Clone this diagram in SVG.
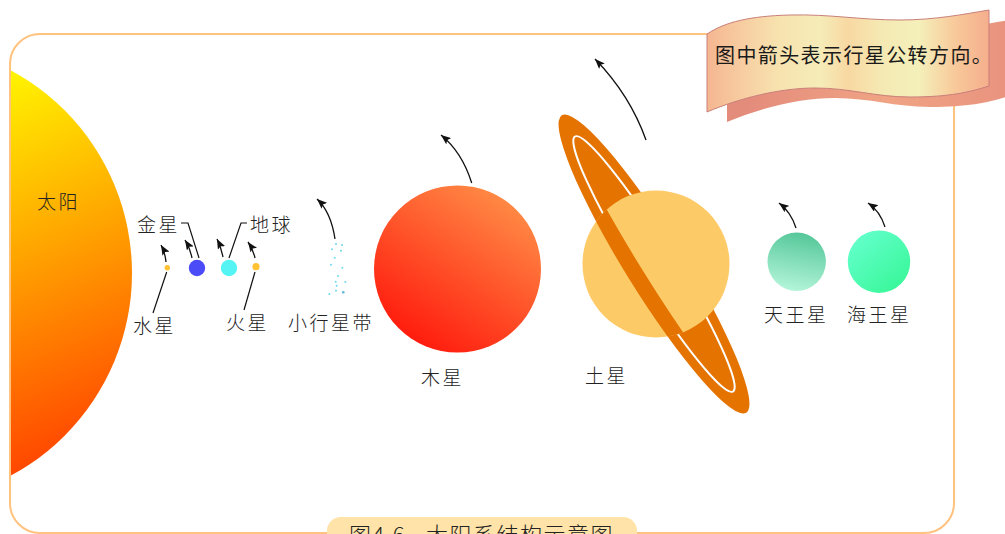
<svg xmlns="http://www.w3.org/2000/svg" width="1005" height="534" viewBox="0 0 1005 534">
  <style>
    .lbl { font-family: 'Noto Sans CJK SC', 'Noto Sans', sans-serif; font-size: 19px; font-weight: 300; fill: #222; letter-spacing: 2.5px; }
    .lead { fill: none; stroke: #111; stroke-width: 1.2; }
    .orbit { fill: none; stroke: #111; stroke-width: 1.3; marker-end: url(#head); }
    .dust { fill: #6ED8F0; }
  </style>
  <defs>
    <marker id="head" viewBox="0 0 10 8" refX="10" refY="4" markerWidth="10" markerHeight="8" markerUnits="userSpaceOnUse" orient="auto">
      <path d="M0,0 L10,4 L0,8 L2,4 Z" fill="#111"/>
    </marker>
    <linearGradient id="sunGrad" gradientUnits="userSpaceOnUse" x1="0" y1="80" x2="150" y2="450">
      <stop offset="0" stop-color="#FFF200"/>
      <stop offset="0.45" stop-color="#FFA000"/>
      <stop offset="1" stop-color="#FF3A00"/>
    </linearGradient>
    <linearGradient id="jupGrad" x1="0.8" y1="0.05" x2="0.2" y2="0.95">
      <stop offset="0" stop-color="#FF8C46"/>
      <stop offset="1" stop-color="#FF180C"/>
    </linearGradient>
    <linearGradient id="uraGrad" x1="0.6" y1="0" x2="0.4" y2="1">
      <stop offset="0" stop-color="#55C799"/>
      <stop offset="1" stop-color="#B4F5DA"/>
    </linearGradient>
    <linearGradient id="nepGrad" x1="0.15" y1="0.1" x2="0.85" y2="0.9">
      <stop offset="0" stop-color="#62FFCA"/>
      <stop offset="1" stop-color="#3AF79A"/>
    </linearGradient>
    <linearGradient id="ribbonFront" gradientUnits="userSpaceOnUse" x1="707" y1="0" x2="989" y2="0">
      <stop offset="0" stop-color="#F5B690"/>
      <stop offset="0.12" stop-color="#F7CCA0"/>
      <stop offset="0.25" stop-color="#F7E2AE"/>
      <stop offset="0.4" stop-color="#F5ECB8"/>
      <stop offset="0.5" stop-color="#F8D8A2"/>
      <stop offset="0.62" stop-color="#F5E9B3"/>
      <stop offset="0.75" stop-color="#F4F0BA"/>
      <stop offset="0.88" stop-color="#F8C99A"/>
      <stop offset="1" stop-color="#F5AE8C"/>
    </linearGradient>
    <linearGradient id="ribbonBack" gradientUnits="userSpaceOnUse" x1="727" y1="0" x2="1009" y2="0">
      <stop offset="0" stop-color="#E48C7C"/>
      <stop offset="0.5" stop-color="#F0A484"/>
      <stop offset="1" stop-color="#E8907E"/>
    </linearGradient>
    <clipPath id="insideFrame">
      <rect x="10" y="0" width="995" height="534"/>
    </clipPath>
    <clipPath id="saturnDisc">
      <circle cx="656" cy="264" r="73.5"/>
    </clipPath>
    <clipPath id="ringFront">
      <rect x="-200" y="0" width="400" height="60"/>
    </clipPath>
    <path id="ribbon" d="M707,34 C725,22 750,16 790,15 C830,14 860,20 900,20 C935,20 965,14 989,10 L989,86 C970,92 950,97 910,97 C875,97 850,88 815,88 C780,88 740,98 707,112 Z"/>
  </defs>

  <rect width="1005" height="534" fill="#FFFFFF"/>

  <!-- Sun, cut off by the frame's left edge -->
  <g id="sun">
    <circle cx="-98" cy="273" r="230" fill="url(#sunGrad)" clip-path="url(#insideFrame)"/>
    <text class="lbl" x="37" y="209">太阳</text>
  </g>

  <!-- outer frame -->
  <rect id="frame" x="10" y="34" width="944" height="499" rx="30" ry="30" fill="none" stroke="#FFC27F" stroke-width="2"/>

  <g id="mercury">
    <circle cx="167.3" cy="267.7" r="2.7" fill="#FFC233"/>
    <text class="lbl" x="133" y="333">水星</text>
  </g>
  <g id="venus">
    <circle cx="197" cy="268" r="8.2" fill="#4B4BF7"/>
    <text class="lbl" x="137" y="232">金星</text>
  </g>
  <g id="earth">
    <circle cx="229" cy="268" r="8.2" fill="#55F4F4"/>
    <text class="lbl" x="250" y="232">地球</text>
  </g>
  <g id="mars">
    <circle cx="256" cy="266.7" r="3.6" fill="#FFC233"/>
    <text class="lbl" x="226" y="330">火星</text>
  </g>
  <g id="asteroid-belt">
    <circle class="dust" cx="336" cy="244" r="1"/>
    <circle class="dust" cx="342" cy="245" r="1"/>
    <circle class="dust" cx="332" cy="249.3" r="1"/>
    <circle class="dust" cx="341" cy="250.7" r="1"/>
    <circle class="dust" cx="334.7" cy="257.7" r="1"/>
    <circle class="dust" cx="331" cy="264.7" r="1"/>
    <circle class="dust" cx="342.3" cy="267.7" r="1"/>
    <circle class="dust" cx="338" cy="276" r="1"/>
    <circle class="dust" cx="335.7" cy="281.7" r="1"/>
    <circle class="dust" cx="345.3" cy="282" r="1"/>
    <circle class="dust" cx="336.7" cy="285.7" r="1"/>
    <circle class="dust" cx="336" cy="290.7" r="1"/>
    <circle class="dust" cx="329.3" cy="294" r="1"/>
    <circle cx="343.3" cy="292.3" r="1.3" fill="#5AB8D8"/>
    <text class="lbl" x="288" y="330">小行星带</text>
  </g>
  <g id="jupiter">
    <circle cx="457.5" cy="269" r="83.5" fill="url(#jupGrad)"/>
    <text class="lbl" x="421" y="385">木星</text>
  </g>
  <g id="saturn">
    <g transform="rotate(58.2 654 264)">
      <ellipse cx="654" cy="264" rx="175" ry="29" fill="#E57300"/>
      <ellipse cx="654" cy="264" rx="150" ry="19" fill="none" stroke="#FFFFFF" stroke-width="2"/>
    </g>
    <circle cx="656" cy="264" r="73.5" fill="#FCCA66"/>
    <g clip-path="url(#saturnDisc)">
      <g transform="translate(654 264) rotate(58.2)">
        <path clip-path="url(#ringFront)" fill="#E57300" fill-rule="evenodd" d="M-175,0 A175,29 0 1 0 175,0 A175,29 0 1 0 -175,0 Z M-150,0 A150,13 0 1 0 150,0 A150,13 0 1 0 -150,0 Z"/>
      </g>
    </g>
    <text class="lbl" x="585" y="383">土星</text>
  </g>
  <g id="uranus">
    <circle cx="796.7" cy="261.7" r="29.2" fill="url(#uraGrad)"/>
    <text class="lbl" x="764" y="322">天王星</text>
  </g>
  <g id="neptune">
    <circle cx="879" cy="261.7" r="31.2" fill="url(#nepGrad)"/>
    <text class="lbl" x="847" y="322">海王星</text>
  </g>

  <!-- leader lines and orbital direction arrows -->
  <g id="connectors">
    <path class="lead" d="M181,223 H188 L199,258"/>
    <path class="lead" d="M247,223 H241 L229,258"/>
    <path class="lead" d="M166.7,272 L153,313"/>
    <path class="lead" d="M255,272 L244,310"/>
    <path class="orbit" d="M166,262 Q165,252 161,245"/>
    <path class="orbit" d="M192,258 Q190,248 185,240"/>
    <path class="orbit" d="M223,257 Q221,247 217,239"/>
    <path class="orbit" d="M255,258 Q253,249 248,242"/>
    <path class="orbit" d="M335,239 Q331,212 317,199"/>
    <path class="orbit" d="M471.7,183 Q462,152 441,135"/>
    <path class="orbit" d="M646,140 Q630,95 595,59"/>
    <path class="orbit" d="M796,228 Q791,212 779,203"/>
    <path class="orbit" d="M885,227 Q880,211 868,203"/>
  </g>

  <!-- note ribbon in the top-right corner -->
  <g id="note">
    <use href="#ribbon" transform="translate(20 10)" fill="url(#ribbonBack)"/>
    <use href="#ribbon" fill="url(#ribbonFront)" stroke="#C97F7A" stroke-width="1"/>
    <text x="715" y="63" font-family="'Noto Sans CJK SC', 'Noto Sans', sans-serif" font-size="20" fill="#1A1A1A" letter-spacing="1.4">图中箭头表示行星公转方向。</text>
  </g>

  <!-- caption tab at the bottom, running off the lower edge -->
  <g id="caption">
    <rect x="327" y="517" width="310" height="40" rx="14" ry="14" fill="#FFE3A8"/>
    <text font-family="'Noto Sans CJK SC', 'Noto Sans', sans-serif" font-size="22" font-weight="300" fill="#222" letter-spacing="1.5" y="543"><tspan x="349">图4.6</tspan><tspan x="426">太阳系结构示意图</tspan></text>
  </g>
</svg>
